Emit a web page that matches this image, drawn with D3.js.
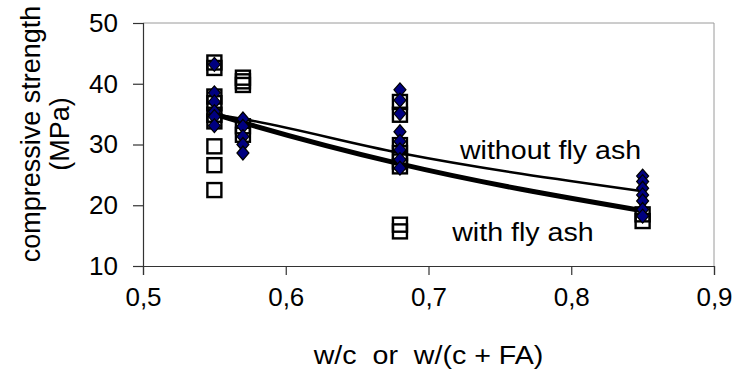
<!DOCTYPE html>
<html>
<head>
<meta charset="utf-8">
<script src="https://cdn.jsdelivr.net/npm/d3@7"></script>
<style>
  body { margin: 0; background: #fff; }
  svg { display: block; font-family: Arial, "Liberation Sans", sans-serif; }
</style>
</head>
<body>
<div id="chart"></div>
<script>
// squares: with fly ash
let sqX = [0.55, 0.55, 0.55, 0.55, 0.55, 0.55, 0.55, 0.55, 0.55,
  0.57, 0.57, 0.57, 0.57, 0.57,
  0.68, 0.68, 0.68, 0.68, 0.68, 0.68, 0.68, 0.68,
  0.85, 0.85];
let sqY = [43.5, 42.6, 37.9, 36.8, 34.9, 33.8, 29.7, 26.6, 22.5,
  41.0, 40.4, 39.8, 33.0, 31.6,
  37.0, 34.9, 29.9, 28.6, 27.2, 26.4, 16.8, 15.7,
  18.5, 17.4];

// diamonds: without fly ash
let dmX = [0.55, 0.55, 0.55, 0.55, 0.55, 0.55,
  0.57, 0.57, 0.57, 0.57, 0.57,
  0.68, 0.68, 0.68, 0.68, 0.68, 0.68, 0.68, 0.68,
  0.85, 0.85, 0.85, 0.85, 0.85, 0.85, 0.85];
let dmY = [43.2, 38.5, 37.0, 35.4, 34.6, 33.1,
  34.2, 33.0, 31.3, 30.0, 28.6,
  39.0, 37.3, 35.1, 32.1, 30.5, 29.1, 27.5, 26.1,
  24.8, 23.9, 22.8, 21.7, 20.7, 19.3, 18.2];

// trend lines
let trendX = [0.55, 0.57, 0.68, 0.85];
let trendWithout = [35.0, 34.2, 28.6, 22.3];
let trendWith = [35.0, 33.6, 26.8, 19.1];

let xTicks = [0.5, 0.6, 0.7, 0.8, 0.9];
let yTicks = [10, 20, 30, 40, 50];

var W = 735, H = 374;
var box = {left: 143, right: 714, top: 23, bottom: 266};
var fs = 26;

let svg = d3.select('#chart').append('svg').attr('width', W).attr('height', H);

let x = d3.scaleLinear().domain([0.5, 0.9]).range([box.left, box.right]);
let y = d3.scaleLinear().domain([10, 50]).range([box.bottom, box.top]);
let fmt = d => d3.format('.1f')(d).replace('.', ',');

// plot frame, top and right in light grey
svg.append('path')
  .attr('d', `M${box.left},${box.top}H${box.right}V${box.bottom}`)
  .attr('fill', 'none').attr('stroke', '#9a9a9a').attr('stroke-width', 1);

let xAxis = svg.append('g').attr('transform', `translate(0,${box.bottom})`)
  .call(d3.axisBottom(x).tickValues(xTicks).tickFormat(fmt).tickSizeOuter(0).tickSize(9).tickPadding(13));
let yAxis = svg.append('g').attr('transform', `translate(${box.left},0)`)
  .call(d3.axisLeft(y).tickValues(yTicks).tickSizeOuter(0).tickSize(10).tickPadding(15));

[xAxis, yAxis].forEach(a => {
  a.selectAll('path, line').attr('stroke', '#333').attr('stroke-width', 1.2);
  a.selectAll('text').attr('font-size', fs).attr('fill', '#000')
    .attr('font-family', 'Arial, "Liberation Sans", sans-serif');
});

// squares
let sq = 14;
svg.append('g').selectAll('rect').data(sqX).join('rect')
  .attr('x', (d, i) => x(d) - sq / 2)
  .attr('y', (d, i) => y(sqY[i]) - sq / 2)
  .attr('width', sq).attr('height', sq)
  .attr('fill', 'none').attr('stroke', '#000').attr('stroke-width', 2.4);

// trend lines
let line = d3.line().x(d => x(d[0])).y(d => y(d[1])).curve(d3.curveMonotoneX);
svg.append('path').datum(d3.zip(trendX, trendWithout))
  .attr('d', line).attr('fill', 'none').attr('stroke', '#000').attr('stroke-width', 2.4);
svg.append('path').datum(d3.zip(trendX, trendWith))
  .attr('d', line).attr('fill', 'none').attr('stroke', '#000').attr('stroke-width', 5);

// diamonds
let dw = 6, dh = 7;
let diamond = `M0,${-dh}L${dw},0L0,${dh}L${-dw},0Z`;
svg.append('g').selectAll('path').data(dmX).join('path')
  .attr('d', diamond)
  .attr('transform', (d, i) => `translate(${x(d)},${y(dmY[i])})`)
  .attr('fill', '#000080').attr('stroke', '#000').attr('stroke-width', 1.2);

// labels, slightly wide like the original
function label(px, py, txt, anchor) {
  svg.append('g').attr('transform', `translate(${px},${py}) scale(1.1,1)`)
    .append('text').attr('font-size', fs).attr('text-anchor', anchor || 'start')
    .style('white-space', 'pre').text(txt);
}
label(x(0.722), y(27.6), 'without fly ash');
label(x(0.7166), y(14.1), 'with fly ash');
label((box.left + box.right) / 2, 364, 'w/c  or  w/(c + FA)', 'middle');

let yt = svg.append('text').attr('transform', 'translate(0,134) rotate(-90)')
  .attr('text-anchor', 'middle').attr('font-size', 27);
yt.append('tspan').attr('x', 0).attr('y', 40).text('compressive strength');
yt.append('tspan').attr('x', 0).attr('y', 69).text('(MPa)');
</script>
</body>
</html>
